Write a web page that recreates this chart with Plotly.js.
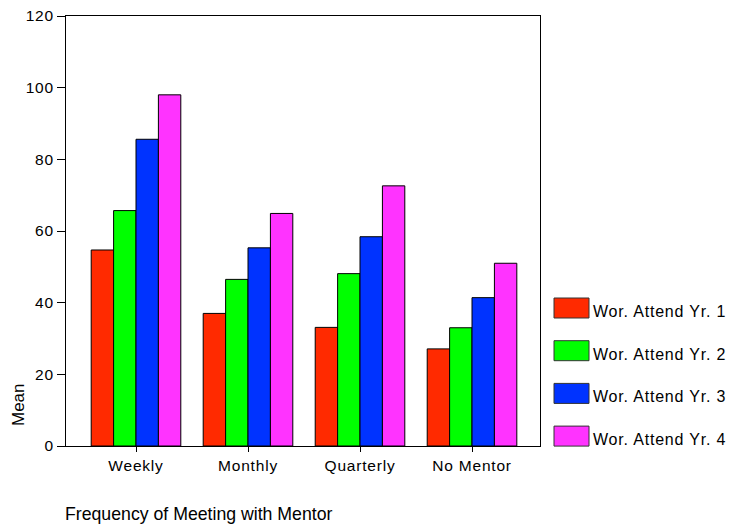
<!DOCTYPE html>
<html>
<head>
<meta charset="utf-8">
<script src="https://cdn.plot.ly/plotly-3.0.1.min.js"></script>
<style>
html,body{margin:0;padding:0;background:#fff;}
#chart{width:734px;height:525px;}
#chart .xtick text, #chart .ytick text {letter-spacing: 0.8px;}
#chart g.annotation[data-index="0"] text,
#chart g.annotation[data-index="1"] text,
#chart g.annotation[data-index="2"] text,
#chart g.annotation[data-index="3"] text {letter-spacing: 0.8px;}
</style>
</head>
<body>
<div id="chart"></div>
<script>
const categories = ["Weekly", "Monthly", "Quarterly", "No Mentor"];
const seriesNames = ["Wor. Attend Yr. 1", "Wor. Attend Yr. 2", "Wor. Attend Yr. 3", "Wor. Attend Yr. 4"];
const yr1 = [54.7, 37.0, 33.1, 27.1];
const yr2 = [65.7, 46.5, 48.1, 33.0];
const yr3 = [85.6, 55.3, 58.4, 41.4];
const yr4 = [98.0, 64.9, 72.6, 51.0];
const seriesValues = [yr1, yr2, yr3, yr4];
const colors = ["#FF2A00", "#00FF00", "#0033FF", "#FF33FF"];

const L = 66, R = 540, T = 16, B = 446, W = 734, H = 525;
const px = x => (x - L) / (R - L);
const py = y => (B - y) / (B - T);
const FONT = "Arial, Liberation Sans, sans-serif";

const traces = seriesValues.map((v, i) => ({
  type: "bar", x: categories, y: v, name: seriesNames[i],
  marker: {color: colors[i], line: {color: "#000", width: 1}},
  showlegend: false, hoverinfo: "y"
}));

const shapes = [], annotations = [];
seriesNames.forEach((n, i) => {
  const top = 298 + i * 42.7;
  shapes.push({type: "rect", xref: "paper", yref: "paper",
    x0: px(554), x1: px(589), y0: py(top + 20), y1: py(top),
    fillcolor: colors[i], line: {color: "#333", width: 1}});
  annotations.push({xref: "paper", yref: "paper", x: px(591), y: py(top + 13.5),
    xanchor: "left", yanchor: "middle", align: "left", text: n, showarrow: false,
    font: {family: FONT, size: 16, color: "#000"}});
});
annotations.push({xref: "paper", yref: "paper", x: px(18), y: py(405),
  xanchor: "center", yanchor: "middle", text: "Mean", textangle: -90, showarrow: false,
  font: {family: FONT, size: 17, color: "#000"}});
annotations.push({xref: "paper", yref: "paper", x: px(63), y: py(514),
  xanchor: "left", yanchor: "middle", text: "Frequency of Meeting with Mentor", showarrow: false,
  font: {family: FONT, size: 17.7, color: "#000"}});

const layout = {
  width: W, height: H,
  margin: {l: L, r: W - R, t: T, b: H - B, pad: 0},
  paper_bgcolor: "#fff", plot_bgcolor: "#fff",
  barmode: "group", bargap: 0.2, bargroupgap: 0,
  font: {family: FONT, size: 13, color: "#000"},
  xaxis: {type: "category", range: [-0.625, 3.607], showline: true, linecolor: "#000", linewidth: 1,
    mirror: true, ticks: "outside", ticklen: 5, tickcolor: "#000", showgrid: false, zeroline: false,
    tickfont: {size: 15.5}},
  yaxis: {range: [0, 120], dtick: 20, showline: true, linecolor: "#000", linewidth: 1, mirror: true,
    ticks: "outside", ticklen: 8, tickcolor: "#000", showgrid: false, zeroline: false,
    tickfont: {size: 15.5}},
  shapes: shapes, annotations: annotations
};
Plotly.newPlot("chart", traces, layout, {displayModeBar: false, staticPlot: true});
</script>
</body>
</html>
